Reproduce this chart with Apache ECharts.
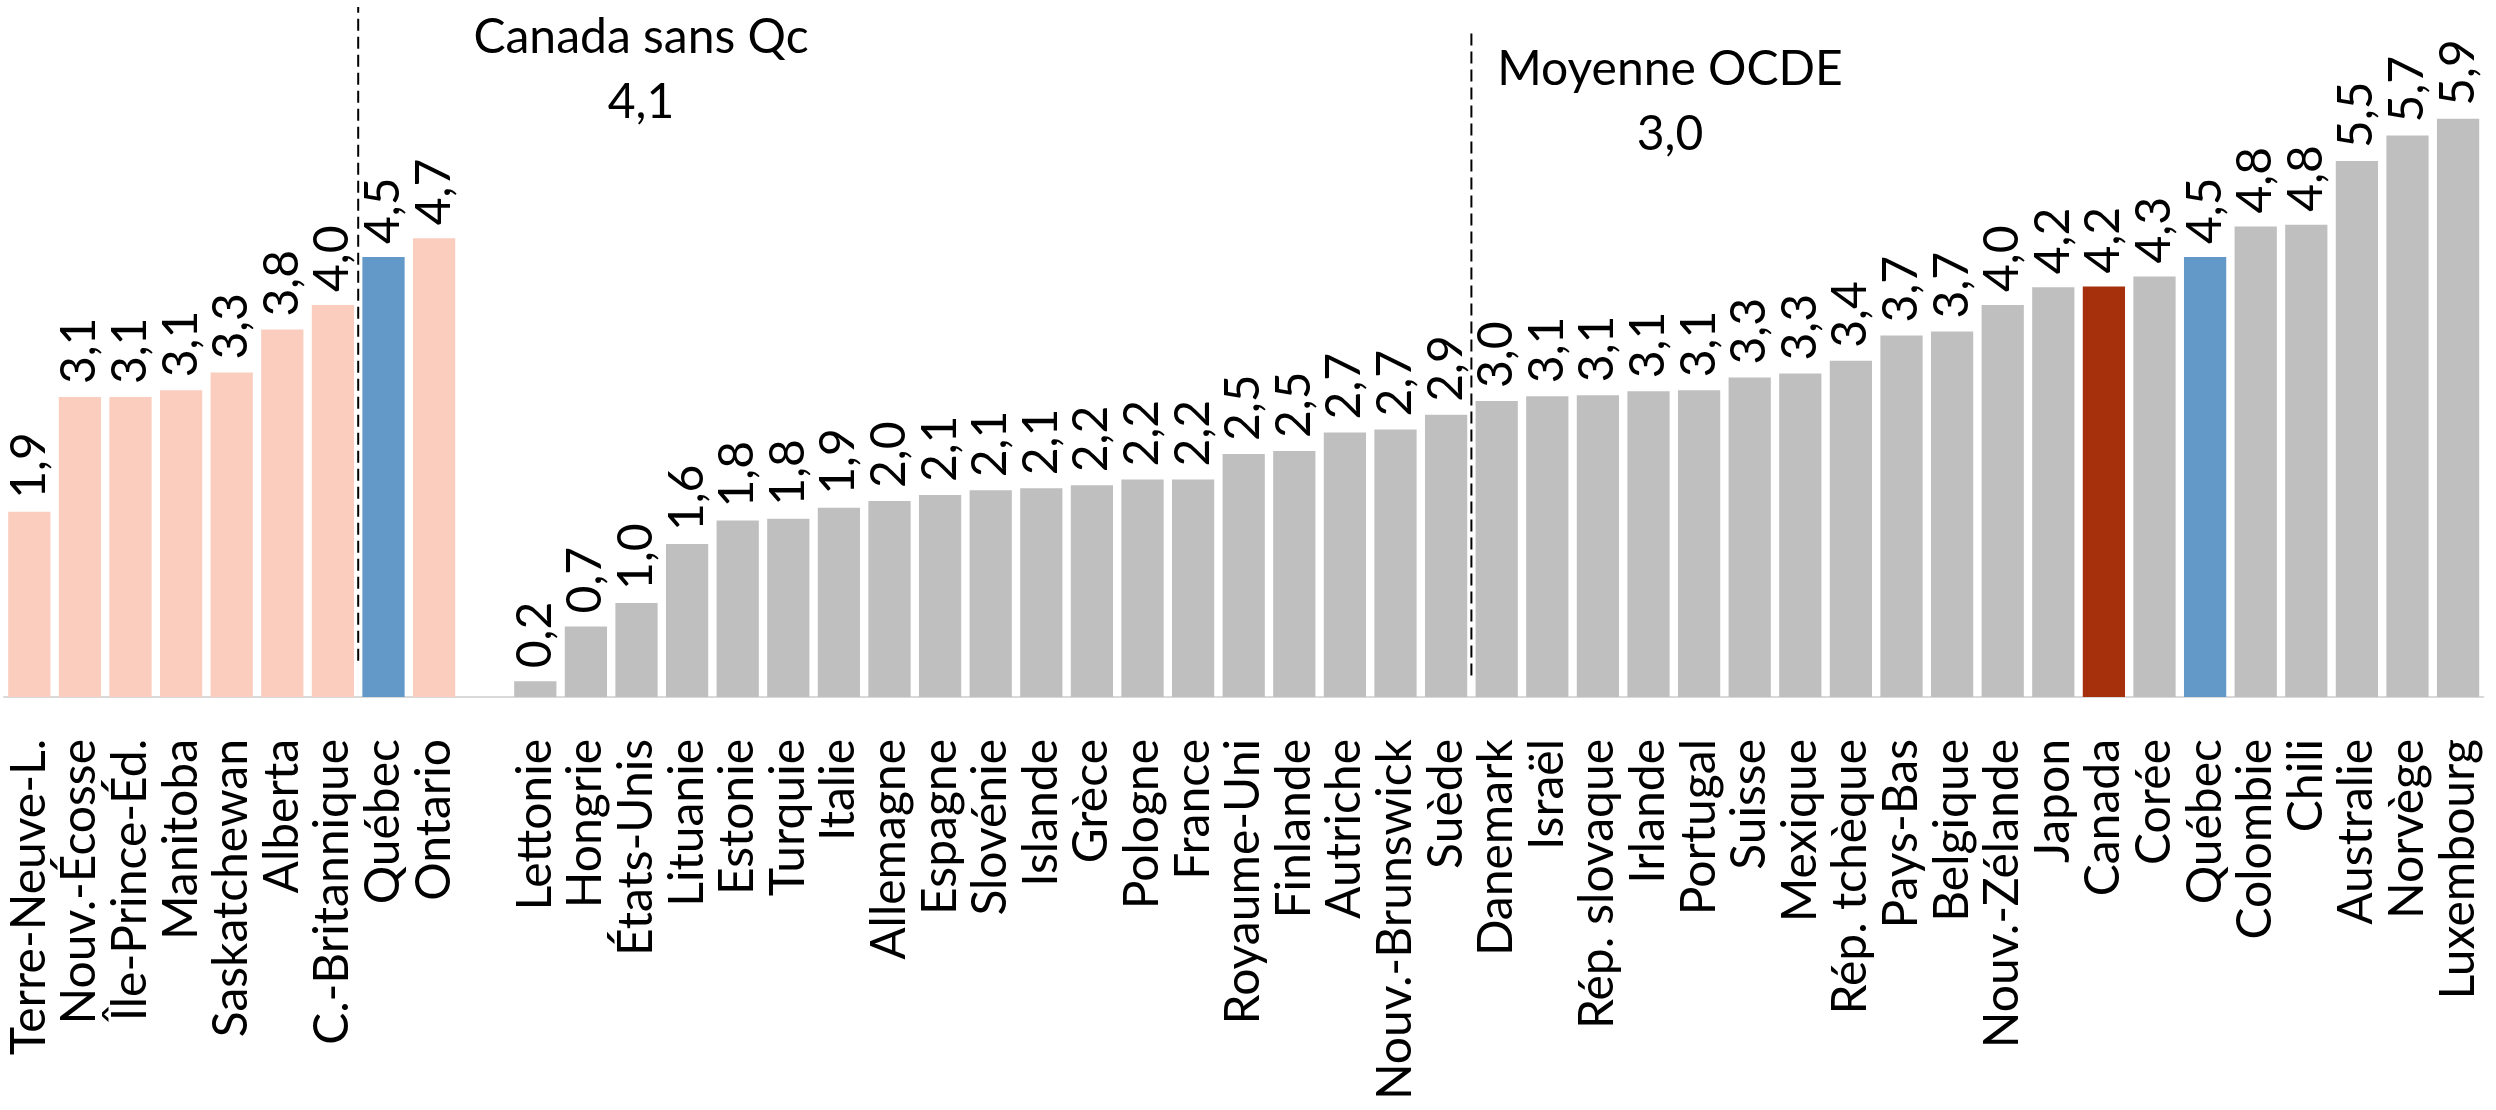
<!DOCTYPE html>
<html>
<head>
<meta charset="utf-8">
<script src="https://cdn.jsdelivr.net/npm/echarts@6/dist/echarts.min.js"></script>
<style>
  html, body { margin: 0; padding: 0; background: #fff; }
  #chart { width: 2496px; height: 1110px; }
</style>
</head>
<body>
<div id="chart"></div>
<script>
  // provinces (left block)
  const provinces = ['Terre-Neuve-L.', 'Nouv.-Écosse', 'Île-Prince-Éd.', 'Manitoba', 'Saskatchewan',
    'Alberta', 'C.-Britannique', 'Québec', 'Ontario']
  const provinceValues = [1.89, 3.06, 3.06, 3.13, 3.31, 3.75, 4.0, 4.49, 4.68]

  // pays OCDE (right block)
  const countries = ['Lettonie', 'Hongrie', 'États-Unis', 'Lituanie', 'Estonie', 'Turquie', 'Italie',
    'Allemagne', 'Espagne', 'Slovénie', 'Islande', 'Grèce', 'Pologne', 'France', 'Royaume-Uni',
    'Finlande', 'Autriche', 'Nouv.-Brunswick', 'Suède', 'Danemark', 'Israël', 'Rép. slovaque',
    'Irlande', 'Portugal', 'Suisse', 'Mexique', 'Rép. tchèque', 'Pays-Bas', 'Belgique',
    'Nouv.-Zélande', 'Japon', 'Canada', 'Corée', 'Québec', 'Colombie', 'Chili', 'Australie',
    'Norvège', 'Luxembourg']
  const countryValues = [0.16, 0.72, 0.96, 1.56, 1.80, 1.82, 1.93,
    2.0, 2.06, 2.11, 2.13, 2.16, 2.22, 2.22, 2.48,
    2.51, 2.70, 2.73, 2.88, 3.02, 3.07, 3.08,
    3.12, 3.13, 3.26, 3.30, 3.43, 3.69, 3.73,
    4.0, 4.18, 4.19, 4.29, 4.49, 4.80, 4.82, 5.47,
    5.73, 5.90]

  // reference lines: drawn after these categories
  const refAfter = ['C.-Britannique', 'Suède']
  const refNames = ['Canada sans Qc', 'Moyenne OCDE']
  const refLabels = ['4,1', '3,0']

  const categories = provinces.concat([''], countries)
  const values = provinceValues.concat(['-'], countryValues)

  const SALMON = '#FBCDBE'
  const BLUE = '#6399C8'
  const GREY = '#BFBFBF'
  const RED = '#A5300B'

  // boundary index on the hidden value axis (category i spans [i, i+1])
  const refPos = refAfter.map(n => categories.indexOf(n) + 1)
  const refSpans = [[0.37, 7.04], [0.22, 6.83]]

  const chart = echarts.init(document.getElementById('chart'))

  const textStyle = { fontFamily: 'Lato', fontSize: 48, fill: '#000', align: 'center', verticalAlign: 'middle' }

  chart.setOption({
    animation: false,
    grid: {
      left: 4,
      right: 12.6,
      top: 1.2,
      bottom: 413
    },
    xAxis: [{
        type: 'category',
        data: categories,
        axisTick: { show: false },
        axisLine: { lineStyle: { color: '#D9D9D9', width: 2 } },
        axisLabel: {
          interval: 0,
          rotate: 90,
          margin: 42,
          color: '#000',
          fontFamily: 'Lato',
          fontSize: 48
        }
      },
      {
        type: 'value',
        min: 0,
        max: categories.length,
        show: false
      }
    ],
    yAxis: {
      type: 'value',
      min: 0,
      max: 7.1,
      show: false,
      splitLine: { show: false }
    },
    series: [{
        type: 'bar',
        data: values,
        barCategoryGap: '16.5%',
        itemStyle: {
          color: p => {
            if (p.name === 'Québec') return BLUE
            if (p.name === 'Canada') return RED
            return p.dataIndex < provinces.length ? SALMON : GREY
          }
        },
        label: {
          show: true,
          position: 'top',
          rotate: 90,
          align: 'left',
          verticalAlign: 'middle',
          distance: 13,
          color: '#000',
          fontFamily: 'Lato',
          fontSize: 48,
          formatter: p => p.value.toFixed(1).replace('.', ',')
        }
      },
      ...refPos.map((x, i) => ({
        type: 'line',
        xAxisIndex: 1,
        silent: true,
        symbol: 'none',
        data: [[x, refSpans[i][0]], [x, refSpans[i][1]]],
        lineStyle: { color: '#000', width: 2, type: [12, 6] }
      }))
    ],
    graphic: [
      { type: 'text', x: 641, y: 38, style: Object.assign({ text: refNames[0] }, textStyle) },
      { type: 'text', x: 641, y: 103, style: Object.assign({ text: refLabels[0] }, textStyle) },
      { type: 'text', x: 1670, y: 70, style: Object.assign({ text: refNames[1] }, textStyle) },
      { type: 'text', x: 1670, y: 135, style: Object.assign({ text: refLabels[1] }, textStyle) }
    ]
  })
</script>
</body>
</html>
